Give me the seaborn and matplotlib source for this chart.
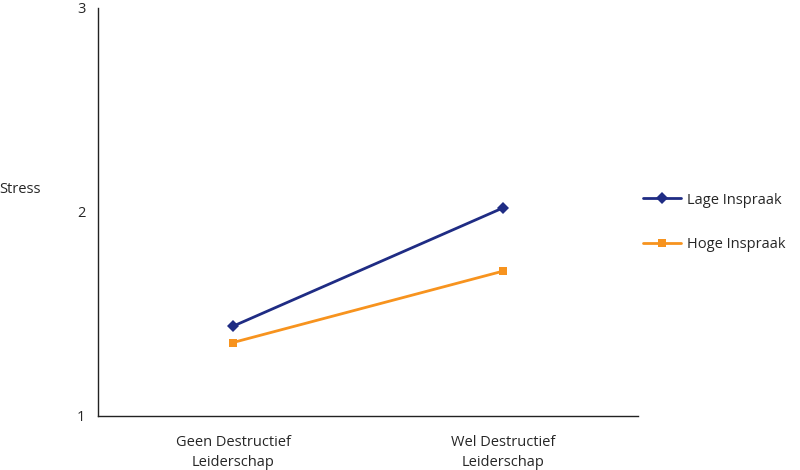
import pandas as pd
import seaborn as sns
import matplotlib.pyplot as plt

# Data
categories = ["Geen Destructief\nLeiderschap", "Wel Destructief\nLeiderschap"]
series_names = ["Lage Inspraak", "Hoge Inspraak"]
lage_values = [1.44, 2.02]
hoge_values = [1.36, 1.71]

df = pd.DataFrame({
    "x": [0, 1, 0, 1],
    "Stress": lage_values + hoge_values,
    "groep": [series_names[0]] * 2 + [series_names[1]] * 2,
})

sns.set_style("white")
plt.rcParams["font.family"] = ["Open Sans", "DejaVu Sans"]
plt.rcParams["font.size"] = 10.5

fig = plt.figure(figsize=(8, 4.7), dpi=100)
ax = fig.add_axes([0.1225, 0.115, 0.675, 0.868])

palette = {"Lage Inspraak": "#1f2c84", "Hoge Inspraak": "#f7931e"}
markers = {"Lage Inspraak": "D", "Hoge Inspraak": "s"}
sns.lineplot(data=df, x="x", y="Stress", hue="groep", style="groep",
             palette=palette, markers=markers, dashes=False, linewidth=2,
             markersize=6, markeredgewidth=0, ax=ax)

ax.set_xlim(-0.5, 1.5)
ax.set_ylim(1, 3)
ax.set_yticks([1, 2, 3])
ax.set_xticks([-0.5, 0.5, 1.5])
ax.set_xticklabels([])
ax.set_xticks([0, 1], minor=True)
ax.set_xticklabels(categories, minor=True)
ax.tick_params(axis="x", which="major", direction="out", length=5, width=1, color="#222222")
ax.tick_params(axis="x", which="minor", length=0, pad=14)
ax.tick_params(axis="y", direction="out", length=5, width=1, color="#222222", pad=4)
for lab in ax.get_xticklabels(minor=True):
    lab.set_horizontalalignment("center")
    lab.set_linespacing(1.4)

ax.set_xlabel("")
ax.set_ylabel("Stress", rotation=0, labelpad=0)
ax.yaxis.set_label_coords(-0.144, 0.537)

sns.despine(ax=ax)
for side in ["left", "bottom"]:
    ax.spines[side].set_color("#222222")
    ax.spines[side].set_linewidth(1)

handles, labels = ax.get_legend_handles_labels()
ax.legend(handles, labels, loc="center left", bbox_to_anchor=(0.985, 0.475),
          frameon=False, labelspacing=2.0, handlelength=2.6, handletextpad=0.4,
          fontsize=10.5)

fig.savefig("out.png", dpi=100)
